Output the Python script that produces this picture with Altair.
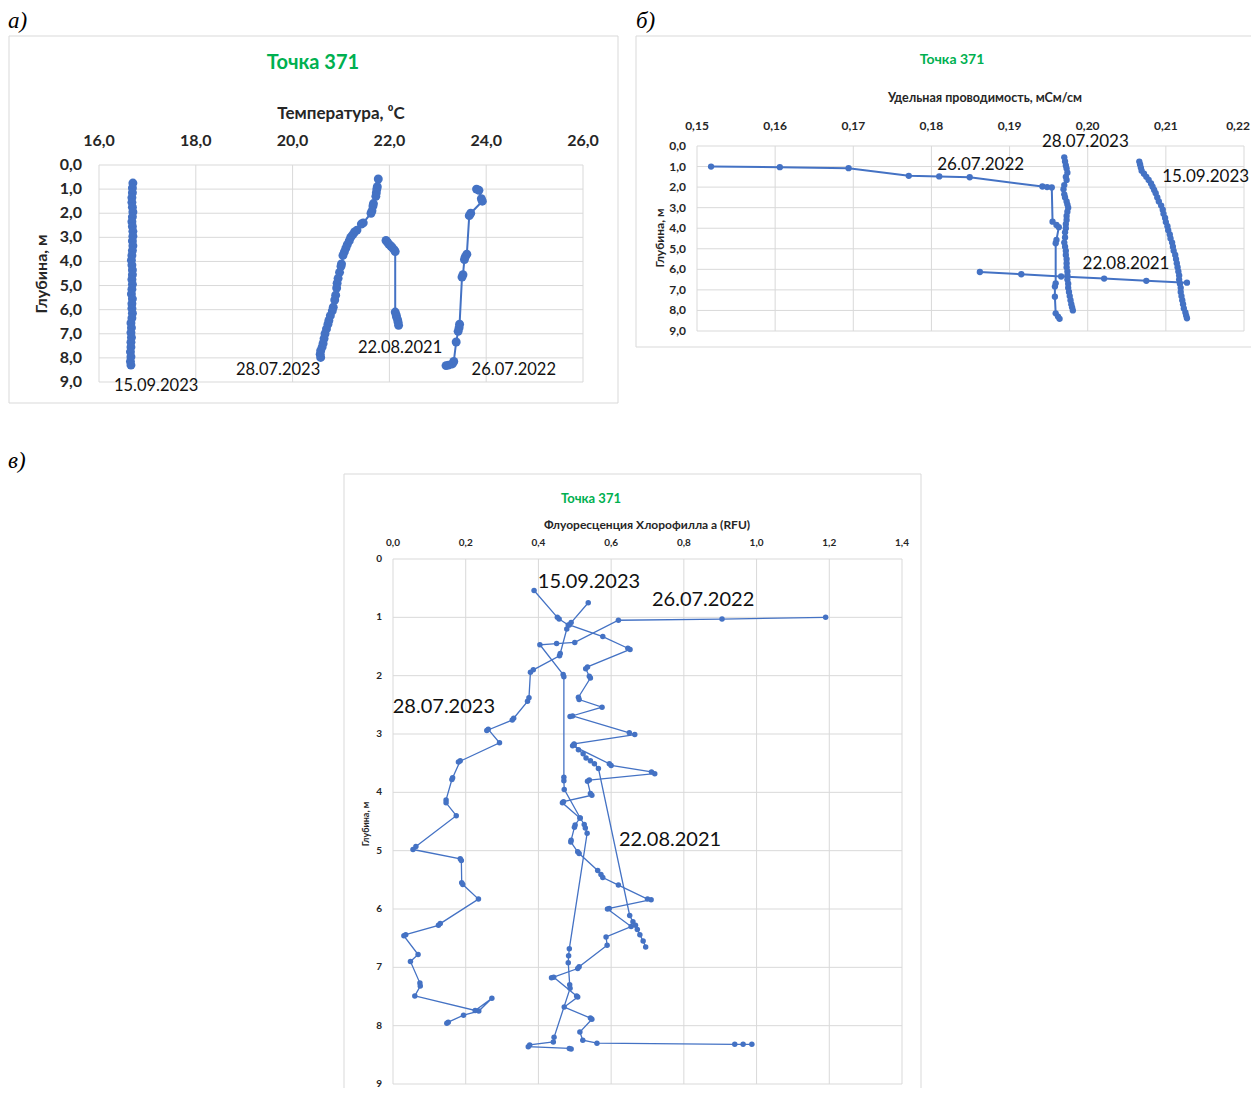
import altair as alt
import pandas as pd

# ---------------- data ----------------
SERIES = ["15.09.2023", "28.07.2023", "22.08.2021", "26.07.2022"]

# Panel a: temperature (°C) vs depth (m)
TA_1509_V = [16.70, 16.69, 16.69, 16.68, 16.68, 16.69, 16.70, 16.69, 16.68, 16.69, 16.70, 16.70, 16.69,
             16.70, 16.69, 16.68, 16.67, 16.68, 16.69, 16.69, 16.68, 16.69, 16.68, 16.67, 16.69, 16.68,
             16.68, 16.69, 16.68, 16.66, 16.67, 16.66, 16.67, 16.66, 16.66, 16.65, 16.66, 16.65, 16.66]
TA_1509_D = [0.75, 0.95, 1.15, 1.35, 1.55, 1.75, 1.95, 2.15, 2.35, 2.55, 2.75, 2.95, 3.15,
             3.35, 3.55, 3.75, 3.95, 4.15, 4.35, 4.55, 4.75, 4.95, 5.15, 5.35, 5.55, 5.75,
             5.95, 6.15, 6.35, 6.55, 6.75, 6.95, 7.15, 7.35, 7.55, 7.75, 7.95, 8.15, 8.30]
TA_2807_V = [21.77, 21.75, 21.74, 21.73, 21.72, 21.67, 21.66, 21.64, 21.62, 21.46, 21.42, 21.33, 21.28,
             21.24, 21.20, 21.17, 21.13, 21.10, 21.07, 21.04, 21.01, 21.00, 20.97, 20.94, 20.92, 20.91,
             20.89, 20.87, 20.84, 20.82, 20.78, 20.75, 20.73, 20.70, 20.67, 20.65, 20.63, 20.61, 20.58,
             20.57, 20.58]
TA_2807_D = [0.58, 0.90, 1.00, 1.15, 1.30, 1.60, 1.70, 1.90, 2.00, 2.40, 2.45, 2.70, 2.78,
             2.90, 3.00, 3.15, 3.30, 3.45, 3.60, 3.75, 4.10, 4.20, 4.45, 4.70, 4.90, 5.10,
             5.40, 5.60, 5.90, 6.05, 6.25, 6.45, 6.60, 6.80, 7.00, 7.20, 7.40, 7.55, 7.70,
             7.85, 7.98]
TA_2208_V = [21.93, 21.96, 21.99, 22.03, 22.06, 22.10, 22.12, 22.12, 22.14, 22.15, 22.17, 22.18, 22.19]
TA_2208_D = [3.13, 3.20, 3.29, 3.36, 3.43, 3.52, 3.59, 6.10, 6.22, 6.31, 6.42, 6.52, 6.65]
TA_2607_V = [23.80, 23.85, 23.90, 23.92, 23.68, 23.65, 23.60, 23.57, 23.55, 23.52, 23.50, 23.45, 23.44,
             23.42, 23.38, 23.33, 23.30, 23.22, 23.17]
TA_2607_D = [1.00, 1.05, 1.40, 1.50, 2.00, 2.10, 3.70, 3.80, 3.92, 4.55, 4.65, 6.60, 6.75,
             6.90, 7.34, 8.15, 8.25, 8.30, 8.32]
A_XTICKS = [16, 18, 20, 22, 24, 26]
A_XLABELS = ["16,0", "18,0", "20,0", "22,0", "24,0", "26,0"]
A_YTICKS = [0, 1, 2, 3, 4, 5, 6, 7, 8, 9]
A_YLABELS = ["0,0", "1,0", "2,0", "3,0", "4,0", "5,0", "6,0", "7,0", "8,0", "9,0"]
A_XTITLE = "Температура, ⁰C"
A_LAB_T = ["15.09.2023", "28.07.2023", "22.08.2021", "26.07.2022"]
A_LAB_V = [17.18, 19.70, 22.22, 24.57]
A_LAB_D = [9.17, 8.51, 7.59, 8.51]

# Panel b: specific conductivity (mS/cm) vs depth (m)
CB_1509_V = [0.2066, 0.2067, 0.2068, 0.2069, 0.2072, 0.2075, 0.2078, 0.2081, 0.2083, 0.2085, 0.2087,
             0.2089, 0.2091, 0.2094, 0.2096, 0.2097, 0.2099, 0.2100, 0.2102, 0.2103, 0.2105, 0.2106,
             0.2108, 0.2109, 0.2110, 0.2112, 0.2113, 0.2114, 0.2115, 0.2116, 0.2117, 0.2117, 0.2118,
             0.2119, 0.2119, 0.2120, 0.2121, 0.2122, 0.2123, 0.2125, 0.2126, 0.2127]
CB_1509_D = [0.76, 0.90, 1.05, 1.20, 1.35, 1.50, 1.65, 1.82, 1.98, 2.14, 2.30,
             2.50, 2.70, 2.90, 3.10, 3.30, 3.50, 3.70, 3.90, 4.10, 4.30, 4.50,
             4.70, 4.90, 5.10, 5.30, 5.50, 5.70, 5.90, 6.10, 6.30, 6.50, 6.70,
             6.90, 7.10, 7.30, 7.50, 7.70, 7.90, 8.10, 8.25, 8.38]
CB_2807_V = [0.1970, 0.1971, 0.1972, 0.1973, 0.1974, 0.1972, 0.1973, 0.1970, 0.1969, 0.1970, 0.1971,
             0.1973, 0.1974, 0.1975, 0.1974, 0.1973, 0.1973, 0.1972, 0.1972, 0.1971, 0.1971, 0.1970,
             0.1971, 0.1972, 0.1972, 0.1973, 0.1973, 0.1973, 0.1974, 0.1974, 0.1974, 0.1975, 0.1975,
             0.1976, 0.1977, 0.1978, 0.1979, 0.1980, 0.1981]
CB_2807_D = [0.55, 0.75, 0.95, 1.10, 1.30, 1.50, 1.65, 1.90, 2.10, 2.35, 2.50,
             2.70, 2.85, 3.00, 3.20, 3.40, 3.60, 3.80, 4.00, 4.20, 4.45, 4.70,
             4.90, 5.10, 5.30, 5.50, 5.70, 5.90, 6.10, 6.30, 6.50, 6.70, 6.90,
             7.10, 7.30, 7.50, 7.70, 7.85, 8.00]
CB_2208_V = [0.1862, 0.1915, 0.1966, 0.2021, 0.2075, 0.2127]
CB_2208_D = [6.13, 6.24, 6.35, 6.45, 6.56, 6.65]
CB_2607_V = [0.1518, 0.1606, 0.1694, 0.1771, 0.1810, 0.1849, 0.1942, 0.1948, 0.1954, 0.1955,
             0.1960, 0.1963, 0.1960, 0.1959, 0.1959, 0.1958, 0.1958, 0.1959, 0.1962, 0.1964]
CB_2607_D = [1.00, 1.03, 1.08, 1.45, 1.48, 1.52, 1.97, 2.00, 2.02, 3.68,
             3.84, 3.95, 4.57, 4.73, 6.68, 6.84, 7.33, 8.14, 8.30, 8.41]
B_XTICKS = [0.15, 0.16, 0.17, 0.18, 0.19, 0.20, 0.21, 0.22]
B_XLABELS = ["0,15", "0,16", "0,17", "0,18", "0,19", "0,20", "0,21", "0,22"]
B_YTICKS = [0, 1, 2, 3, 4, 5, 6, 7, 8, 9]
B_YLABELS = ["0,0", "1,0", "2,0", "3,0", "4,0", "5,0", "6,0", "7,0", "8,0", "9,0"]
B_XTITLE = "Удельная проводимость, мСм/см"
B_LAB_T = ["28.07.2023", "26.07.2022", "15.09.2023", "22.08.2021"]
B_LAB_V = [0.1997, 0.1863, 0.2151, 0.2049]
B_LAB_D = [-0.19, 0.92, 1.51, 5.74]

# Panel c: chlorophyll a fluorescence (RFU) vs depth (m)
FC_1509_V = [0.537, 0.490, 0.485, 0.577, 0.646, 0.652, 0.535, 0.530, 0.540, 0.543, 0.510, 0.512,
             0.575, 0.487, 0.494, 0.650, 0.665, 0.498, 0.494, 0.595, 0.600, 0.711, 0.720, 0.540,
             0.535, 0.543, 0.547, 0.469, 0.466, 0.514, 0.501, 0.499, 0.490, 0.489, 0.508, 0.512,
             0.563, 0.572, 0.577, 0.620, 0.700, 0.710, 0.595, 0.590, 0.655, 0.586, 0.589, 0.512,
             0.508, 0.436, 0.442, 0.505, 0.508, 0.471, 0.543, 0.547, 0.514, 0.522, 0.561, 0.940,
             0.963, 0.987]
FC_1509_D = [0.75, 1.09, 1.13, 1.33, 1.53, 1.55, 1.85, 1.88, 2.01, 2.04, 2.37, 2.41,
             2.54, 2.70, 2.69, 2.98, 3.01, 3.17, 3.20, 3.51, 3.54, 3.65, 3.68, 3.79,
             3.81, 4.02, 4.05, 4.16, 4.18, 4.44, 4.56, 4.60, 4.82, 4.85, 5.02, 5.05,
             5.34, 5.41, 5.46, 5.59, 5.83, 5.84, 5.99, 6.00, 6.30, 6.48, 6.62, 6.99,
             7.02, 7.18, 7.17, 7.49, 7.51, 7.68, 7.87, 7.89, 8.11, 8.25, 8.30, 8.32,
             8.32, 8.32]
FC_2807_V = [0.388, 0.452, 0.457, 0.482, 0.478, 0.460, 0.458, 0.386, 0.378, 0.374, 0.370, 0.332,
             0.328, 0.258, 0.262, 0.293, 0.180, 0.185, 0.164, 0.162, 0.146, 0.146, 0.174, 0.063,
             0.055, 0.185, 0.188, 0.189, 0.192, 0.235, 0.130, 0.125, 0.035, 0.030, 0.069, 0.048,
             0.074, 0.075, 0.060, 0.226, 0.272, 0.236, 0.194, 0.152, 0.148]
FC_2807_D = [0.54, 1.00, 1.03, 1.13, 1.20, 1.62, 1.66, 1.90, 1.94, 2.38, 2.44, 2.73,
             2.76, 2.94, 2.92, 3.15, 3.48, 3.46, 3.75, 3.78, 4.13, 4.18, 4.40, 4.93,
             4.98, 5.14, 5.17, 5.55, 5.58, 5.83, 6.25, 6.28, 6.44, 6.46, 6.78, 6.90,
             7.27, 7.32, 7.49, 7.74, 7.53, 7.75, 7.82, 7.94, 7.96]
FC_2208_V = [0.498, 0.510, 0.523, 0.531, 0.543, 0.554, 0.565, 0.651, 0.660, 0.667, 0.672, 0.679,
             0.688, 0.695]
FC_2208_D = [3.18, 3.27, 3.34, 3.41, 3.46, 3.51, 3.59, 6.11, 6.22, 6.28, 6.35, 6.44,
             6.55, 6.65]
FC_2607_V = [1.190, 0.905, 0.620, 0.500, 0.450, 0.404, 0.468, 0.470, 0.470, 0.470, 0.471, 0.515,
             0.526, 0.529, 0.534, 0.485, 0.483, 0.482, 0.486, 0.487, 0.443, 0.441, 0.376, 0.372,
             0.485, 0.490]
FC_2607_D = [1.00, 1.03, 1.05, 1.43, 1.45, 1.47, 1.98, 2.02, 3.74, 3.80, 3.95, 4.44,
             4.55, 4.61, 4.70, 6.68, 6.80, 6.92, 7.30, 7.36, 8.20, 8.28, 8.33, 8.36,
             8.39, 8.40]
C_XTICKS = [0.0, 0.2, 0.4, 0.6, 0.8, 1.0, 1.2, 1.4]
C_XLABELS = ["0,0", "0,2", "0,4", "0,6", "0,8", "1,0", "1,2", "1,4"]
C_YTICKS = [0, 1, 2, 3, 4, 5, 6, 7, 8, 9]
C_YLABELS = ["0", "1", "2", "3", "4", "5", "6", "7", "8", "9"]
C_XTITLE = "Флуоресценция Хлорофилла а (RFU)"
C_LAB_T = ["15.09.2023", "26.07.2022", "28.07.2023", "22.08.2021"]
C_LAB_V = [0.539, 0.853, 0.140, 0.762]
C_LAB_D = [0.39, 0.71, 2.53, 4.82]

YTITLE = "Глубина, м"
TITLE = "Точка 371"
TITLE_B = "Точка  371"

# ---------------- styling ----------------
BLUE = "#4472C4"
GRID = "#d9d9d9"
GREEN = "#00B050"
TXT = "#262626"
FONT = "Lato, Noto Sans, sans-serif"
SERIF = "Liberation Serif, DejaVu Serif, serif"


def make_df(groups):
    rows = []
    for name, vs, ds in groups:
        for i, (v, d) in enumerate(zip(vs, ds)):
            rows.append({"s": name, "i": i, "v": v, "d": d})
    return pd.DataFrame(rows)


def value_text(text, x, y, size, weight="bold", color=TXT, angle=0, align="center",
               font=FONT, style="normal"):
    kw = dict(font=font, fontSize=size, fontWeight=weight, color=color, align=align,
              fontStyle=style, baseline="middle")
    if angle:
        kw["angle"] = angle
    return alt.Chart(pd.DataFrame({"t": [text]})).mark_text(**kw).encode(
        text="t:N", x=alt.value(x), y=alt.value(y))


def panel(df, xticks, xlabels, yticks, ylabels, labs, xs, ys, xlab_y, ylab_x,
          ticksize, size, sw, labsize, last_dx=0):
    gv = pd.DataFrame({"v": xticks, "d0": yticks[0], "d1": yticks[-1]})
    gh = pd.DataFrame({"d": yticks, "v0": xticks[0], "v1": xticks[-1]})
    X = lambda f: alt.X(f, scale=xs, axis=None)
    Y = lambda f: alt.Y(f, scale=ys, axis=None)
    rule_v = alt.Chart(gv).mark_rule(color=GRID, strokeWidth=1).encode(
        x=X("v:Q"), y=Y("d0:Q"), y2="d1:Q")
    rule_h = alt.Chart(gh).mark_rule(color=GRID, strokeWidth=1).encode(
        y=Y("d:Q"), x=X("v0:Q"), x2="v1:Q")
    line = alt.Chart(df).mark_line(color=BLUE, strokeWidth=sw).encode(
        x=X("v:Q"), y=Y("d:Q"), detail="s:N", order="i:Q")
    pts = alt.Chart(df).mark_circle(color=BLUE, opacity=1, size=size).encode(
        x=X("v:Q"), y=Y("d:Q"))
    text = alt.Chart(labs).mark_text(font=FONT, fontSize=labsize, color="#111111").encode(
        x=X("v:Q"), y=Y("d:Q"), text="t:N")
    xt = alt.Chart(pd.DataFrame({"v": xticks[:-1], "t": xlabels[:-1]})).mark_text(
        font=FONT, fontSize=ticksize, fontWeight="bold", color=TXT).encode(
        x=X("v:Q"), y=alt.value(xlab_y), text="t:N")
    xt_last = alt.Chart(pd.DataFrame({"v": xticks[-1:], "t": xlabels[-1:]})).mark_text(
        font=FONT, fontSize=ticksize, fontWeight="bold", color=TXT, dx=last_dx).encode(
        x=X("v:Q"), y=alt.value(xlab_y), text="t:N")
    yt = alt.Chart(pd.DataFrame({"d": yticks, "t": ylabels})).mark_text(
        font=FONT, fontSize=ticksize, fontWeight="bold", color=TXT, align="right").encode(
        y=Y("d:Q"), x=alt.value(ylab_x), text="t:N")
    return alt.layer(rule_v, rule_h, line, pts, text, xt, xt_last, yt)


# ---------------- panel a ----------------
dfa = make_df([
    (SERIES[0], TA_1509_V, TA_1509_D),
    (SERIES[1], TA_2807_V, TA_2807_D),
    (SERIES[2], TA_2208_V, TA_2208_D),
    (SERIES[3], TA_2607_V, TA_2607_D),
])
xa = alt.Scale(domain=[16, 26], range=[91, 575], nice=False, zero=False)
ya = alt.Scale(domain=[0, 9], range=[157, 374], nice=False, zero=False)
pa = panel(dfa, A_XTICKS, A_XLABELS, A_YTICKS, A_YLABELS,
           pd.DataFrame({"t": A_LAB_T, "v": A_LAB_V, "d": A_LAB_D}),
           xa, ya, 133, 74, 16, 80, 2, 16.5)

# ---------------- panel b ----------------
dfb = make_df([
    (SERIES[0], CB_1509_V, CB_1509_D),
    (SERIES[1], CB_2807_V, CB_2807_D),
    (SERIES[2], CB_2208_V, CB_2208_D),
    (SERIES[3], CB_2607_V, CB_2607_D),
])
xb = alt.Scale(domain=[0.15, 0.22], range=[689, 1236], nice=False, zero=False)
yb = alt.Scale(domain=[0, 9], range=[138, 323], nice=False, zero=False)
pb = panel(dfb, B_XTICKS, B_XLABELS, B_YTICKS, B_YLABELS,
           pd.DataFrame({"t": B_LAB_T, "v": B_LAB_V, "d": B_LAB_D}),
           xb, yb, 118, 678, 12, 40, 2, 17, last_dx=-6)

# ---------------- panel c ----------------
dfc = make_df([
    (SERIES[0], FC_1509_V, FC_1509_D),
    (SERIES[1], FC_2807_V, FC_2807_D),
    (SERIES[2], FC_2208_V, FC_2208_D),
    (SERIES[3], FC_2607_V, FC_2607_D),
])
xc = alt.Scale(domain=[0, 1.4], range=[385, 894], nice=False, zero=False)
yc = alt.Scale(domain=[0, 9], range=[551, 1076], nice=False, zero=False)
pc = panel(dfc, C_XTICKS, C_XLABELS, C_YTICKS, C_YLABELS,
           pd.DataFrame({"t": C_LAB_T, "v": C_LAB_V, "d": C_LAB_D}),
           xc, yc, 535, 374, 10, 30, 1.3, 20)

# ---------------- frames, titles, panel letters ----------------
one = pd.DataFrame({"t": [""]})


def frame(x1, x2, y1, y2):
    return alt.Chart(one).mark_rect(filled=False, stroke=GRID, strokeWidth=1).encode(
        x=alt.value(x1), x2=alt.value(x2), y=alt.value(y1), y2=alt.value(y2))


frames = [frame(1, 610, 28, 395), frame(628, 1270, 28, 339), frame(336, 913, 466, 1100)]

texts = [
    value_text(TITLE, 305, 55, 20, color=GREEN),
    value_text(TITLE_B, 944, 52, 14, color=GREEN),
    value_text(TITLE, 583, 491, 13, color=GREEN),
    value_text(A_XTITLE, 333, 106, 17),
    value_text(B_XTITLE, 977, 90, 12.5),
    value_text(C_XTITLE, 639, 517, 12),
    value_text(YTITLE, 34, 266, 16, angle=270),
    value_text(YTITLE, 652, 230, 12, angle=270),
    value_text(YTITLE, 358, 816, 9, angle=270),
    value_text("а)", 0, 13, 23, weight="normal", color="#000000", align="left", font=SERIF,
               style="italic"),
    value_text("б)", 628, 13, 23, weight="normal", color="#000000", align="left", font=SERIF,
               style="italic"),
    value_text("в)", 0, 453, 23, weight="normal", color="#000000", align="left", font=SERIF,
               style="italic"),
]

chart = alt.layer(*frames, pa, pb, pc, *texts).resolve_scale(
    x="independent", y="independent"
).properties(
    width=1243, height=1080, autosize=alt.AutoSizeParams(type="none"), padding=0,
    background="white"
).configure_view(strokeWidth=0)

chart.save("out.html", embed_options={"renderer": "svg", "actions": False})
